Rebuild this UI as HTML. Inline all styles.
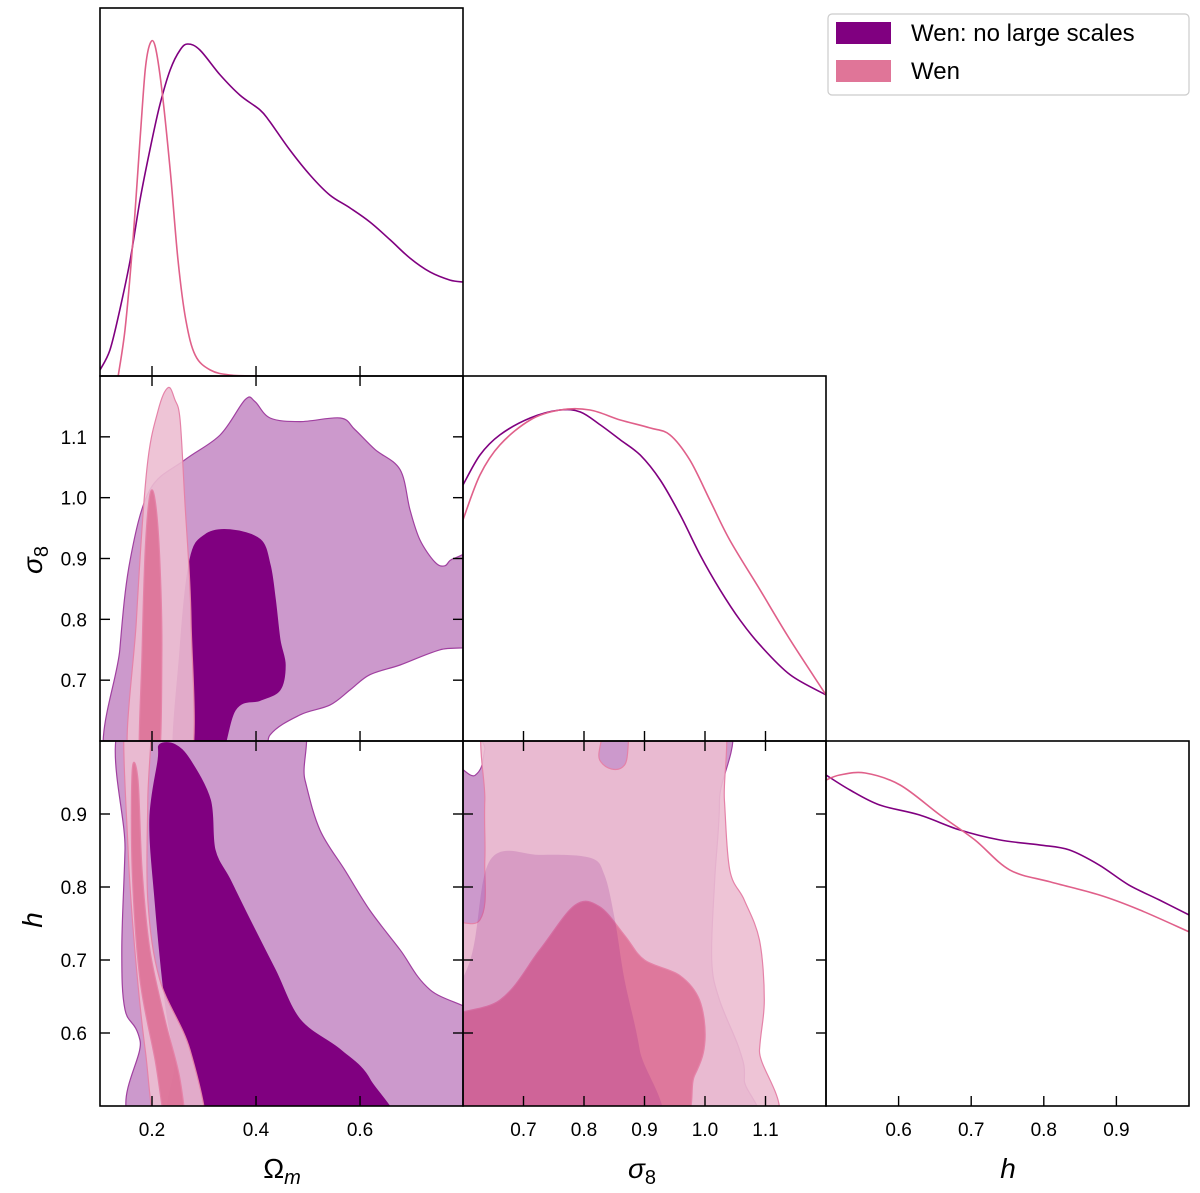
<!DOCTYPE html>
<html><head><meta charset="utf-8"><style>
body{margin:0;background:#fff;}
svg{display:block;font-family:"Liberation Sans","DejaVu Sans",sans-serif;}
</style></head><body>
<svg id="c" width="1200" height="1193" viewBox="0 0 1200 1193"></svg>
<script>
// ---- data ----
const omPurpleX=[0.1,0.119,0.138,0.158,0.177,0.196,0.215,0.235,0.254,0.269,0.292,0.331,0.369,0.408,0.427,0.465,0.504,0.542,0.581,0.619,0.658,0.696,0.735,0.773,0.798];
const omPurpleY=[0.018,0.078,0.199,0.349,0.530,0.681,0.816,0.922,0.982,1.0,0.982,0.907,0.846,0.801,0.765,0.681,0.605,0.545,0.506,0.464,0.410,0.355,0.313,0.289,0.283];
const omPinkX=[0.135,0.148,0.162,0.177,0.187,0.196,0.206,0.219,0.235,0.250,0.265,0.283,0.312,0.350,0.408];
const omPinkY=[0,0.139,0.380,0.711,0.922,1.0,0.994,0.861,0.620,0.349,0.169,0.063,0.018,0.003,0];
const s8PurpleX=[0.6,0.628,0.661,0.711,0.760,0.794,0.827,0.860,0.893,0.926,0.959,0.992,1.025,1.058,1.091,1.141,1.2];
const s8PurpleY=[0.771,0.861,0.922,0.973,0.997,0.991,0.952,0.907,0.861,0.786,0.681,0.560,0.455,0.364,0.289,0.199,0.139];
const s8PinkX=[0.6,0.628,0.661,0.711,0.760,0.810,0.860,0.909,0.942,0.975,1.008,1.041,1.091,1.141,1.2];
const s8PinkY=[0.666,0.801,0.892,0.967,0.997,0.997,0.967,0.943,0.922,0.846,0.726,0.605,0.455,0.304,0.139];
const hPurpleX=[0.5,0.533,0.574,0.629,0.684,0.739,0.794,0.835,0.876,0.917,0.959,1.0];
const hPurpleY=[0.994,0.949,0.904,0.874,0.829,0.799,0.784,0.769,0.724,0.664,0.619,0.574];
const hPinkX=[0.5,0.519,0.554,0.602,0.657,0.705,0.753,0.809,0.876,0.932,1.0];
const hPinkY=[0.979,0.994,1.0,0.964,0.874,0.799,0.709,0.673,0.634,0.589,0.523];
// contours [x,y] in data units
const omS8PurpleOuter=[[0.123,0.6],[0.138,0.75],[0.158,0.898],[0.196,1.013],[0.263,1.062],[0.331,1.103],[0.379,1.161],[0.398,1.158],[0.427,1.131],[0.485,1.125],[0.562,1.131],[0.590,1.112],[0.629,1.079],[0.677,1.046],[0.696,0.98],[0.715,0.931],[0.744,0.894],[0.763,0.888],[0.783,0.901],[0.798,0.911],[0.798,0.771],[0.754,0.75],[0.677,0.725],[0.619,0.709],[0.581,0.684],[0.542,0.659],[0.485,0.643],[0.427,0.61],[0.398,0.6]];
const omS8PurpleInner=[[0.244,0.6],[0.254,0.75],[0.273,0.898],[0.302,0.939],[0.35,0.947],[0.408,0.931],[0.427,0.889],[0.437,0.832],[0.446,0.766],[0.456,0.725],[0.446,0.684],[0.408,0.667],[0.36,0.651],[0.321,0.6]];
const omS8PinkOuter=[[0.158,0.6],[0.170,0.799],[0.190,1.046],[0.212,1.144],[0.231,1.181],[0.244,1.161],[0.254,1.128],[0.263,0.996],[0.275,0.799],[0.271,0.6]];
const omS8PinkInner=[[0.177,0.6],[0.181,0.75],[0.187,0.914],[0.196,1.005],[0.206,0.996],[0.215,0.898],[0.219,0.75],[0.212,0.6]];
const omHPurpleOuter=[[0.154,1.0],[0.148,0.851],[0.142,0.714],[0.148,0.632],[0.177,0.59],[0.206,0.5],[0.798,0.5],[0.798,0.604],[0.735,0.659],[0.677,0.714],[0.619,0.768],[0.571,0.823],[0.523,0.878],[0.494,0.947],[0.465,1.0]];
const omHPurpleInner=[[0.215,0.995],[0.244,0.995],[0.273,0.974],[0.312,0.919],[0.321,0.851],[0.35,0.81],[0.388,0.755],[0.437,0.686],[0.485,0.618],[0.562,0.577],[0.619,0.536],[0.648,0.5],[0.263,0.5],[0.244,0.563],[0.225,0.645],[0.206,0.782],[0.196,0.892],[0.212,0.974]];
const omHPinkOuter=[[0.148,1.0],[0.196,1.0],[0.192,0.919],[0.192,0.782],[0.215,0.673],[0.273,0.577],[0.302,0.5],[0.215,0.5],[0.187,0.577],[0.167,0.714],[0.154,0.851]];
const omHPinkInner=[[0.162,0.96],[0.173,0.947],[0.181,0.823],[0.196,0.714],[0.225,0.618],[0.254,0.536],[0.263,0.5],[0.231,0.5],[0.206,0.563],[0.177,0.673],[0.162,0.823]];
const s8HPurpleOuter=[[0.6,0.933],[0.62,0.953],[0.636,0.988],[0.645,1.0],[1.016,1.0],[1.024,0.919],[1.016,0.81],[1.011,0.7],[1.024,0.645],[1.057,0.577],[1.065,0.536],[1.049,0.5],[0.6,0.5]];
const s8HPurpleInner=[[0.6,0.59],[0.612,0.7],[0.645,0.837],[0.727,0.844],[0.81,0.84],[0.834,0.816],[0.851,0.755],[0.867,0.673],[0.892,0.577],[0.909,0.5],[0.6,0.5]];
const s8HPinkOuter=[[0.645,1.0],[0.818,1.0],[0.826,0.974],[0.867,0.967],[0.892,1.0],[1.024,1.0],[1.032,0.919],[1.041,0.823],[1.065,0.782],[1.09,0.727],[1.098,0.645],[1.09,0.577],[1.082,0.5],[0.6,0.5],[0.6,0.727],[0.628,0.755],[0.636,0.837],[0.636,0.919]];
const s8HPinkInner=[[0.6,0.604],[0.661,0.645],[0.727,0.714],[0.785,0.775],[0.826,0.773],[0.867,0.734],[0.9,0.7],[0.958,0.679],[0.991,0.645],[1.0,0.59],[0.983,0.542],[0.925,0.5],[0.6,0.5]];
const omTicks=[0.2,0.4,0.6], s8Ticks=[0.7,0.8,0.9,1.0,1.1], hTicks=[0.6,0.7,0.8,0.9];

// ---- layout ----
const NS="http://www.w3.org/2000/svg", svg=document.getElementById('c');
const cols=[100,463,826,1189], rows=[8,376,741,1106];
const ranges={om:[0.1,0.798],s8:[0.6,1.2],h:[0.5,1.0]};
function sx(v,c,k){const r=ranges[k];return cols[c]+(v-r[0])/(r[1]-r[0])*(cols[c+1]-cols[c]);}
function sy(v,rw,k){const r=ranges[k];return rows[rw+1]-(v-r[0])/(r[1]-r[0])*(rows[rw+1]-rows[rw]);}
function mk(t,a,p){const e=document.createElementNS(NS,t);for(const k in a)e.setAttribute(k,a[k]);(p||svg).appendChild(e);return e;}
function smooth(P,closed){
 const n=P.length;let d='M'+P[0][0].toFixed(1)+','+P[0][1].toFixed(1);
 const m=closed?n:n-1;
 for(let i=0;i<m;i++){
  const p0=P[closed?(i-1+n)%n:Math.max(i-1,0)],p1=P[i],p2=P[(i+1)%n],p3=P[closed?(i+2)%n:Math.min(i+2,n-1)];
  const c1=[p1[0]+(p2[0]-p0[0])/6,p1[1]+(p2[1]-p0[1])/6],c2=[p2[0]-(p3[0]-p1[0])/6,p2[1]-(p3[1]-p1[1])/6];
  d+='C'+c1.map(v=>v.toFixed(1)).join(',')+' '+c2.map(v=>v.toFixed(1)).join(',')+' '+p2[0].toFixed(1)+','+p2[1].toFixed(1);
 }
 return d+(closed?'Z':'');}
const defs=mk('defs',{});
let cid=0;
function panelGroup(c,rw,name){const id='cp'+(cid++);const cp=mk('clipPath',{id:id},defs);
 mk('rect',{x:cols[c],y:rows[rw],width:cols[c+1]-cols[c],height:rows[rw+1]-rows[rw]},cp);
 const g=mk('g',{'clip-path':'url(#'+id+')'});
 
 
 return g;}
function contour(g,pts,c,rw,kx,ky,fill,stroke,name){
 const rx=ranges[kx],ry=ranges[ky],e0=0.002,push=30;
 const P=pts.map(p=>{let X=sx(p[0],c,kx),Y=sy(p[1],rw,ky);
  if(p[0]<=rx[0]+e0)X-=push; if(p[0]>=rx[1]-e0)X+=push;
  if(p[1]<=ry[0]+e0)Y+=push; if(p[1]>=ry[1]-e0)Y-=push;
  return [X,Y];});
 const e=mk('path',{d:smooth(P,true),fill:fill,stroke:stroke,'stroke-width':1.2},g);
 
 }
function curve(g,xs,ys,c,rw,k,color,name){
 const top=rw===2?773:(rw===1?409:44);
 const P=xs.map((x,i)=>[sx(x,c,k),rows[rw+1]-ys[i]*(rows[rw+1]-top)]);
 const e=mk('path',{d:smooth(P,false),fill:'none',stroke:color,'stroke-width':1.6},g);
 
 }
const PO='#cc99cc',PI='#800080',KO='rgba(236,190,209,0.9)',KI='rgba(220,110,148,0.88)';
const PE='#a040a0',KE='#e582a8';
// 1D
let g=panelGroup(0,0,'omega-m-1d-panel');
curve(g,omPurpleX,omPurpleY,0,0,'om','#800080','omega-m-curve-no-large-scales');
curve(g,omPinkX,omPinkY,0,0,'om','#e0608a','omega-m-curve-wen');
g=panelGroup(1,1,'sigma8-1d-panel');
curve(g,s8PurpleX,s8PurpleY,1,1,'s8','#800080','sigma8-curve-no-large-scales');
curve(g,s8PinkX,s8PinkY,1,1,'s8','#e0608a','sigma8-curve-wen');
g=panelGroup(2,2,'h-1d-panel');
curve(g,hPurpleX,hPurpleY,2,2,'h','#800080','h-curve-no-large-scales');
curve(g,hPinkX,hPinkY,2,2,'h','#e0608a','h-curve-wen');
// 2D
g=panelGroup(0,1,'omega-m-sigma8-panel');
contour(g,omS8PurpleOuter,0,1,'om','s8',PO,PE,'purple-outer-contour');
contour(g,omS8PurpleInner,0,1,'om','s8',PI,PI,'purple-inner-contour');
contour(g,omS8PinkOuter,0,1,'om','s8',KO,KE,'pink-outer-contour');
contour(g,omS8PinkInner,0,1,'om','s8',KI,KE,'pink-inner-contour');
g=panelGroup(0,2,'omega-m-h-panel');
contour(g,omHPurpleOuter,0,2,'om','h',PO,PE,'purple-outer-contour');
contour(g,omHPurpleInner,0,2,'om','h',PI,PI,'purple-inner-contour');
contour(g,omHPinkOuter,0,2,'om','h',KO,KE,'pink-outer-contour');
contour(g,omHPinkInner,0,2,'om','h',KI,KE,'pink-inner-contour');
g=panelGroup(1,2,'sigma8-h-panel');
contour(g,s8HPurpleOuter,1,2,'s8','h',PO,PE,'purple-outer-contour');
contour(g,s8HPinkOuter,1,2,'s8','h',KO,KE,'pink-outer-contour');
contour(g,s8HPinkInner,1,2,'s8','h',KI,KE,'pink-inner-contour');
contour(g,s8HPurpleInner,1,2,'s8','h','rgba(128,0,128,0.16)','none','purple-inner-contour');
// frames & ticks
const panels=[[0,0,'om',null],[0,1,'om','s8'],[1,1,'s8',null],[0,2,'om','h'],[1,2,'s8','h'],[2,2,'h',null]];
const tickMap={om:omTicks,s8:s8Ticks,h:hTicks};
panels.forEach(([c,rw,kx,ky])=>{
 const f=mk('rect',{x:cols[c],y:rows[rw],width:cols[c+1]-cols[c],height:rows[rw+1]-rows[rw],fill:'none',stroke:'#000','stroke-width':1.6});
 
 
 tickMap[kx].forEach(v=>{const x=sx(v,c,kx);
  mk('line',{x1:x,x2:x,y1:rows[rw+1],y2:rows[rw+1]-10,stroke:'#000','stroke-width':1.4});
  if(ky) mk('line',{x1:x,x2:x,y1:rows[rw],y2:rows[rw]+10,stroke:'#000','stroke-width':1.4});
  if(rw===2){const t=mk('text',{x:x,y:1136,'font-size':19,'text-anchor':'middle'});t.textContent=v.toFixed(1);
   
   }
 });
 if(ky) tickMap[ky].forEach(v=>{const y=sy(v,rw,ky);
  mk('line',{x1:cols[c],x2:cols[c]+10,y1:y,y2:y,stroke:'#000','stroke-width':1.4});
  mk('line',{x1:cols[c+1],x2:cols[c+1]-10,y1:y,y2:y,stroke:'#000','stroke-width':1.4});
  if(c===0){const t=mk('text',{x:87,y:y+7,'font-size':19,'text-anchor':'end'});t.textContent=v.toFixed(1);
   
   }
 });
});
// axis labels
function lab(x,y,html,name,rot){const t=mk('text',{x:x,y:y,'font-size':28,'text-anchor':'middle'});
 if(rot)t.setAttribute('transform','rotate(-90 '+x+' '+y+')');t.innerHTML=html;
 
 }
lab(282,1178,'Ω<tspan font-style="italic" font-size="20" dy="6">m</tspan>','x-axis-title-omega-m');
lab(642,1178,'<tspan font-style="italic">σ</tspan><tspan font-size="20" dy="6">8</tspan>','x-axis-title-sigma8');
lab(1008,1178,'<tspan font-style="italic">h</tspan>','x-axis-title-h');
lab(42,560,'<tspan font-style="italic">σ</tspan><tspan font-size="20" dy="6">8</tspan>','y-axis-title-sigma8',true);
lab(42,920,'<tspan font-style="italic">h</tspan>','y-axis-title-h',true);
// legend
const lg=mk('g',{});


mk('rect',{x:828,y:14,width:361,height:81,rx:4,fill:'#fff',stroke:'#ccc','stroke-width':1.2},lg);
const e1=mk('rect',{x:836,y:22,width:55,height:22,fill:'#800080'},lg);


const e2=mk('rect',{x:836,y:60,width:55,height:22,fill:'#e07598'},lg);


const t1=mk('text',{x:911,y:41,'font-size':24},lg);t1.textContent='Wen: no large scales';


const t2=mk('text',{x:911,y:79,'font-size':24},lg);t2.textContent='Wen';


</script>
</body></html>
